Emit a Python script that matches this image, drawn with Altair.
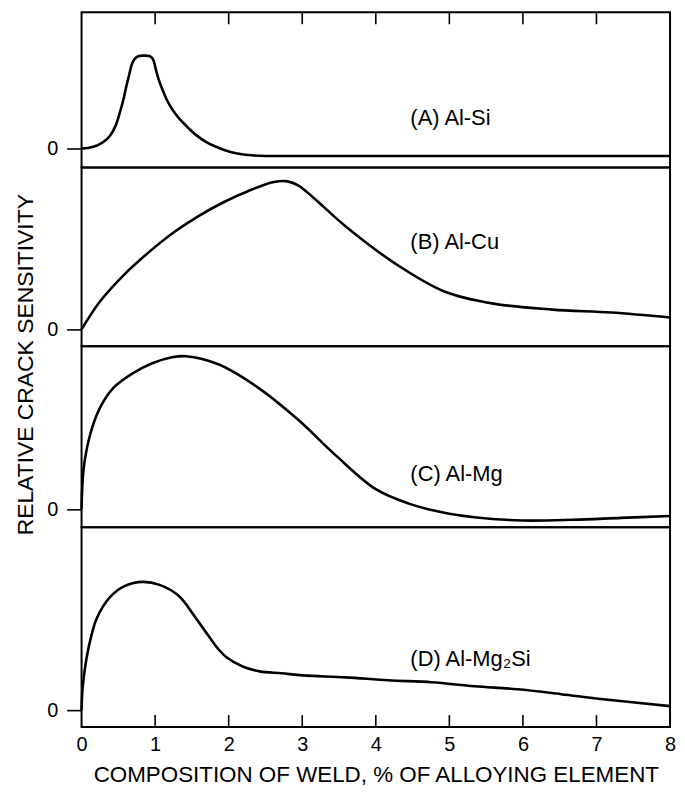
import altair as alt
import pandas as pd

# ---- data (x = % alloying element, y = relative crack sensitivity) ----
x_A = [0, 0.10, 0.21, 0.30, 0.39, 0.46, 0.52, 0.57, 0.61, 0.65, 0.68, 0.72, 0.78, 0.85, 0.92, 0.97,
       1.01, 1.05, 1.10, 1.16, 1.23, 1.32, 1.42, 1.55, 1.69, 1.82, 1.95, 2.10, 2.26, 2.50, 3, 4, 5, 6, 7, 8]
y_A = [0, 0.5, 2, 4.5, 8.7, 15, 24, 33, 42, 50, 56, 60, 62, 62.3, 62, 60,
       53, 46, 39.5, 32.5, 26.5, 20.5, 15.3, 9.3, 4.5, 1.3, -1.2, -3.2, -4.4, -5, -5, -5, -5, -5, -5, -5]

x_B = [0, 0.25, 0.59, 0.92, 1.26, 1.59, 1.93, 2.26, 2.60, 2.80, 2.95, 3.16, 3.60, 4.27, 4.94, 5.60, 6.40, 7.20, 8.0]
y_B = [0, 18.7, 37.3, 52, 65.3, 76, 85.3, 92.7, 98.7, 99.3, 96.5, 88, 68.7, 44, 25.3, 17.3, 13.3, 11.3, 8]

x_C = [0, 0.03, 0.12, 0.25, 0.43, 0.70, 0.96, 1.23, 1.42, 1.86, 2.39, 2.93, 3.46, 4.0, 4.44, 4.90, 5.34, 6.0, 6.68, 7.34, 8.0]
y_C = [0, 28, 50.7, 68, 81.3, 91.3, 98, 102, 102.7, 97.3, 82, 60.7, 36, 13.5, 4, -2, -5.3, -7.5, -7, -5.7, -4.5]

x_D = [0, 0.013, 0.054, 0.12, 0.21, 0.39, 0.59, 0.83, 1.06, 1.32, 1.55, 1.73, 1.85, 1.97, 2.19, 2.42, 2.72, 3.01,
       3.59, 4.17, 4.76, 5.34, 5.93, 6.52, 7.09, 8.0]
y_D = [0, 14, 30.7, 47.3, 62, 76, 83.3, 86, 84, 76.7, 62, 49.5, 41.5, 35.5, 29.3, 26, 24.7, 23.3,
       22, 20, 18.7, 16, 14, 10.7, 7.3, 2.7]

panel_labels = ["(A) Al-Si", "(B) Al-Cu", "(C) Al-Mg", "(D) Al-Mg\u2082Si"]
x_ticks = [0, 1, 2, 3, 4, 5, 6, 7, 8]
y_ticks = [0]
X_TITLE = "COMPOSITION OF WELD, % OF ALLOYING ELEMENT"
Y_TITLE = "RELATIVE CRACK SENSITIVITY"

FONT = "Liberation Sans"
W = 592
heights = [156, 180, 182, 201]
domains = [(-12.67, 91.33), (-11.33, 108.67), (-12.0, 109.33), (-11.33, 122.67)]
label_pos = [(4.47, 20.7), (4.47, 58.7), (4.47, 24.0), (4.47, 34.0)]

series = [(x_A, y_A), (x_B, y_B), (x_C, y_C), (x_D, y_D)]
inner_ticks = pd.DataFrame({"t": [t for t in x_ticks if 0 < t < 8]})


def panel(i):
    xs, ys = series[i]
    df = pd.DataFrame({"x": xs, "y": ys})
    h = heights[i]
    xscale = alt.Scale(domain=[0, 8], nice=False, zero=False)
    yscale = alt.Scale(domain=list(domains[i]), nice=False, zero=False)
    last = i == 3
    if last:
        xaxis = alt.Axis(values=x_ticks, format="d", labelFontSize=20, labelFont=FONT,
                         labelColor="black", labelPadding=8, labelFlush=False, ticks=False,
                         domain=False, grid=False, title=X_TITLE, titleFontSize=22.5, titleFont=FONT,
                         titleFontWeight="normal", titleColor="black", titlePadding=9)
    else:
        xaxis = None
    yargs = dict(values=y_ticks, format="d", labelFontSize=20, labelFont=FONT, labelColor="black",
                 labelPadding=9, tickSize=15, tickWidth=1.6, tickColor="black", domain=False,
                 grid=False)
    if i == 1:
        yaxis = alt.Axis(title=Y_TITLE, titleFontSize=23, titleFont=FONT, titleFontWeight="normal",
                         titleColor="black", titleX=-56, titleY=198, titleAlign="center",
                         titleBaseline="middle", titleAngle=270, **yargs)
    else:
        yaxis = alt.Axis(title=None, **yargs)

    line = alt.Chart(df).mark_line(color="black", strokeWidth=2.6, interpolate="catmull-rom").encode(
        x=alt.X("x:Q", scale=xscale, axis=xaxis),
        y=alt.Y("y:Q", scale=yscale, axis=yaxis),
    )
    lx, ly = label_pos[i]
    lab = pd.DataFrame({"label": [panel_labels[i]]})
    text = alt.Chart(lab).mark_text(align="left", baseline="middle", fontSize=22, font=FONT,
                                    color="black").encode(
        x=alt.datum(lx), y=alt.datum(ly), text="label:N"
    )
    layers = [line, text]
    if i == 0:
        layers.append(alt.Chart(inner_ticks).mark_rule(color="black", strokeWidth=1.6).encode(
            x=alt.X("t:Q"), y=alt.value(0), y2=alt.value(12)))
    if last:
        layers.append(alt.Chart(inner_ticks).mark_rule(color="black", strokeWidth=1.6).encode(
            x=alt.X("t:Q"), y=alt.value(h - 12), y2=alt.value(h)))
    return alt.layer(*layers).properties(width=W, height=h)


chart = alt.vconcat(*[panel(i) for i in range(4)], spacing=0, bounds="flush").properties(
    padding={"left": 5, "top": 0, "right": 0, "bottom": 0}, background="white"
).configure_view(stroke="black", strokeWidth=2)

chart.save("out.html", embed_options={"renderer": "svg", "actions": False})
